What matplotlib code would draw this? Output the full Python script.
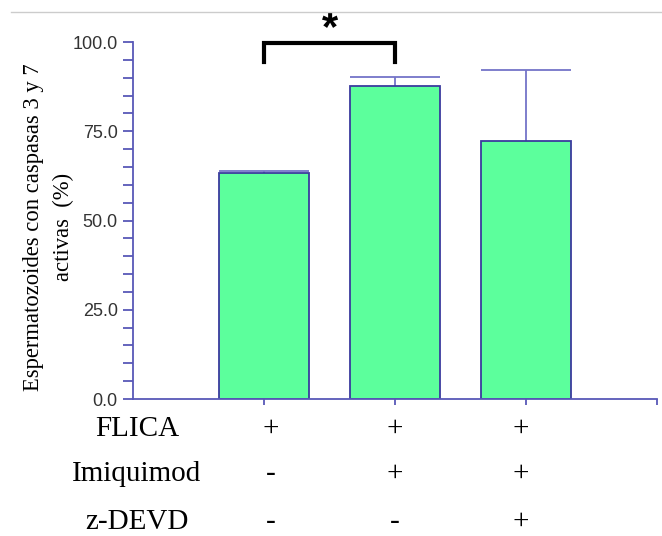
import matplotlib
matplotlib.use('Agg')
import matplotlib.pyplot as plt
from matplotlib.lines import Line2D
from matplotlib.ticker import MultipleLocator, FormatStrFormatter
import matplotlib.transforms as mtransforms

# Caspase 3/7 activity per treatment
values = [63.3, 87.8, 72.2]
errors = [0.7, 2.5, 19.9]
rows = ['FLICA', 'Imiquimod', 'z-DEVD']
flica = ['+', '+', '+']
imiquimod = ['-', '+', '+']
zdevd = ['-', '-', '+']
signs = [flica, imiquimod, zdevd]

axis_col = '#5858b8'
edge_col = '#3a3a9e'
err_col = '#7474c8'
fill_col = '#5cff9c'

fig = plt.figure(figsize=(6.62, 5.36), dpi=100)
ax = fig.add_axes([133/662, 1-399/536, 524/662, 357/536])

pos = [1, 2, 3]
w = 0.68
ax.bar(pos, values, width=w, color=fill_col, edgecolor=edge_col, linewidth=1.3, zorder=2)
# upper error bars only, cap as wide as the bar
tops = [v + e for v, e in zip(values, errors)]
ax.vlines(pos, values, tops, color=err_col, lw=1.3, zorder=1)
ax.hlines(tops, [p - w/2 for p in pos], [p + w/2 for p in pos], color=err_col, lw=1.3, zorder=1)

ax.set_xlim(0, 4)
ax.set_ylim(0, 100)
for s in ['top', 'right']:
    ax.spines[s].set_visible(False)
for s in ['left', 'bottom']:
    ax.spines[s].set_color(axis_col)
    ax.spines[s].set_linewidth(1.3)

ax.set_xticks([1, 2, 3, 4])
ax.set_xticklabels([])
ax.tick_params(axis='x', length=4, width=1.3, color=axis_col)
ax.yaxis.set_major_locator(MultipleLocator(25))
ax.yaxis.set_minor_locator(MultipleLocator(5))
ax.yaxis.set_major_formatter(FormatStrFormatter('%.1f'))
ax.tick_params(axis='y', which='both', length=7, width=1.3, color=axis_col,
               labelsize=13, labelcolor='#333333', pad=4)
for lab in ax.get_yticklabels():
    lab.set_family('Liberation Sans')

fig.text(49/662, 1-227/536, 'Espermatozoides con caspasas 3 y 7\nactivas  (%)',
         rotation=90, ha='center', va='center', multialignment='center',
         family='Liberation Serif', fontsize=16.3, linespacing=1.55)

# treatment table under the axis
trans = mtransforms.blended_transform_factory(ax.transData, ax.transAxes)
row_y = [-0.084, -0.21, -0.345]
sign_shift = [0.05, 0.0, -0.04]
for r, name in enumerate(rows):
    ax.text(0.03, row_y[r], name, transform=trans, ha='center', va='center',
            family='Liberation Serif', fontsize=21)
    for i, p in enumerate(pos):
        ax.text(p + sign_shift[i], row_y[r], signs[r][i], transform=trans,
                ha='center', va='center', family='Liberation Serif', fontsize=21)

# significance bracket between first two bars
ax.plot([pos[0], pos[0], pos[1], pos[1]], [94.5, 99.8, 99.8, 94.5], color='black',
        lw=3, clip_on=False, solid_joinstyle='miter')
ax.text((pos[0] + pos[1]) / 2, 98.0, '*', ha='center', va='bottom', fontsize=30,
        fontweight='bold', family='Liberation Sans', clip_on=False)

fig.add_artist(Line2D([11/662, 1], [1-12/536, 1-12/536], color='#cccccc', lw=1))

fig.savefig('out.png', dpi=100)
